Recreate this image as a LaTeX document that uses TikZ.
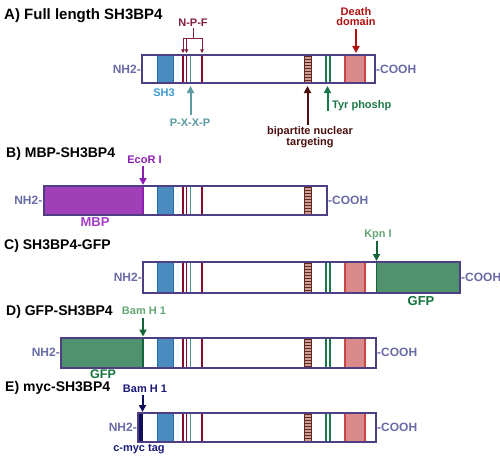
\documentclass[tikz,border=0pt]{standalone}
\usepackage{fontspec}
\setmainfont{Liberation Sans}
\usetikzlibrary{arrows.meta}
\definecolor{boxc}{RGB}{80,62,130}
\definecolor{termc}{RGB}{106,106,166}
\definecolor{shfill}{RGB}{74,140,192}
\definecolor{shedge}{RGB}{30,110,175}
\definecolor{shlbl}{RGB}{58,154,208}
\definecolor{npf}{RGB}{135,10,45}
\definecolor{npflbl}{RGB}{130,30,65}
\definecolor{pxxp}{RGB}{74,144,152}
\definecolor{pxxplbl}{RGB}{90,155,160}
\definecolor{brickfill}{RGB}{200,160,150}
\definecolor{brickline}{RGB}{100,40,30}
\definecolor{tyr}{RGB}{26,120,70}
\definecolor{ddfill}{RGB}{218,138,138}
\definecolor{ddedge}{RGB}{200,70,70}
\definecolor{ddlbl}{RGB}{176,16,16}
\definecolor{bnt}{RGB}{75,15,15}
\definecolor{mbpfill}{RGB}{160,64,184}
\definecolor{mbplbl}{RGB}{165,60,200}
\definecolor{ecor}{RGB}{140,30,180}
\definecolor{gfpfill}{RGB}{80,145,110}
\definecolor{gfpedge}{RGB}{20,100,55}
\definecolor{gfplbl}{RGB}{20,115,60}
\definecolor{kpnlbl}{RGB}{100,165,115}
\definecolor{mycc}{RGB}{15,15,90}
\definecolor{myclbl}{RGB}{25,25,120}

\newcommand\mySHcore[2]{%
  \filldraw[fill=shfill,draw=shedge,line width=1pt] (157,#1) rectangle (173,#2);
  \draw[npf,line width=1.8pt] (183,#1)--(183,#2) (186.5,#1)--(186.5,#2) (202,#1)--(202,#2);
  \draw[pxxp,line width=1.8pt] (190.5,#1)--(190.5,#2);
}
\newcommand\myBrick[2]{%
  \fill[brickfill] (304.5,#1) rectangle (311.5,#2);
  \begin{scope}
    \clip (304.5,#1) rectangle (311.5,#2);
    \foreach \k in {0,...,10} \draw[brickline,line width=0.8pt] (304.5,{#1+1.5+3*\k}) -- (311.5,{#1+1.5+3*\k});
  \end{scope}
  \draw[brickline,line width=1pt] (304.5,#1)--(304.5,#2) (311.5,#1)--(311.5,#2);
}
\newcommand\myTail[2]{%
  \draw[tyr,line width=1.8pt] (326,#1)--(326,#2) (330,#1)--(330,#2);
  \fill[ddfill] (345,#1) rectangle (365,#2);
  \draw[ddedge,line width=1.6pt] (345,#1)--(345,#2) (365,#1)--(365,#2);
}

\begin{document}
\begin{tikzpicture}[x=1pt,y=-1pt,
  lbl/.style={font=\bfseries\fontsize{11}{10}\selectfont, inner sep=0, align=center},
  big/.style={font=\bfseries\fontsize{13}{14}\selectfont, inner sep=0},
  ttl/.style={font=\bfseries\fontsize{14}{16}\selectfont, anchor=west, inner sep=0},
  term/.style={font=\bfseries\fontsize{12}{14}\selectfont, inner sep=0, text=termc},
  outline/.style={draw=boxc, line width=2pt},
  arr/.style={line width=2pt, -{Triangle[width=7pt,length=7pt]}},
  sarr/.style={line width=1pt, -{Triangle[width=3.5pt,length=3.5pt]}}]
\useasboundingbox (0,0) rectangle (500,460);

% ---------------- A ----------------
\node[ttl,font=\bfseries\fontsize{15}{16}\selectfont] (tA) at (4,16) {A) Full length SH3BP4};
\mySHcore{55}{83}
\myBrick{55}{83}
\myTail{55}{83}
\draw[outline] (142,55) rectangle (375,83);
\node[term,anchor=east] (nA) at (141,69) {NH2-};
\node[term,anchor=west] (cA) at (376,69) {-COOH};
\node[lbl,text=shlbl] (sh3) at (164,93) {SH3};
% N-P-F
\node[lbl,text=npflbl] (npf) at (193,23) {N-P-F};
\coordinate (npfj) at (193,39);
\coordinate (npfl) at (182.5,39);
\coordinate (npfr) at (202.5,39);
\coordinate (npf1) at (183,53);
\coordinate (npf2) at (186.5,53);
\coordinate (npf3) at (202,53);
\draw[npflbl,line width=1pt] (npf.south) ++(0,1) -- (npfj);
\draw[npflbl,line width=1pt] (npfl) -- (npfr);
\draw[npflbl,sarr] (183,39) -- (npf1);
\draw[npflbl,sarr] (186.5,39) -- (npf2);
\draw[npflbl,sarr] (202,39) -- (npf3);
% P-X-X-P
\node[lbl,text=pxxplbl] (pxxp) at (190,123) {P-X-X-P};
\coordinate (pxxpb) at (190.5,115);
\coordinate (pxxpt) at (190.5,86);
\draw[pxxplbl,arr] (pxxpb) -- (pxxpt);
% bipartite
\node[lbl,text=bnt,font=\bfseries\fontsize{11}{11}\selectfont] (bnl) at (310,137.5) {bipartite nuclear\\targeting};
\coordinate (bnb) at (307.5,125);
\coordinate (bnt) at (307.5,86);
\draw[bnt,arr] (bnb) -- (bnt);
% Tyr
\node[lbl,text=tyr,anchor=west] (tyrl) at (332,105.5) {Tyr phoshp};
\coordinate (tyrb) at (327.5,111);
\coordinate (tyrt) at (327.5,86);
\draw[tyr,arr] (tyrb) -- (tyrt);
% Death domain
\node[lbl,text=ddlbl] (ddl) at (356,17) {Death\\domain};
\coordinate (ddb) at (356,29);
\coordinate (ddt) at (356,53);
\draw[ddlbl,arr] (ddb) -- (ddt);

% ---------------- B ----------------
\node[ttl] (tB) at (6,153.5) {B) MBP-SH3BP4};
\fill[mbpfill] (43.5,186) rectangle (143,215);
\draw[ecor,line width=1.5pt] (143,186) -- (143,215);
\mySHcore{186}{215}
\myBrick{186}{215}
\draw[outline] (43.5,186) rectangle (327,215);
\node[term,anchor=east] (nB) at (42.5,200.5) {NH2-};
\node[term,anchor=west] (cB) at (328,200) {-COOH};
\node[big,text=mbplbl] (mbp) at (95,222) {MBP};
\node[lbl,text=ecor] (eco) at (144.5,160) {EcoR I};
\coordinate (ecob) at (143,166);
\coordinate (ecot) at (143,185);
\draw[ecor,arr] (ecob) -- (ecot);

% ---------------- C ----------------
\node[ttl] (tC) at (4,246) {C) SH3BP4-GFP};
\fill[gfpfill] (376.5,262) rectangle (460,292.5);
\draw[gfpedge,line width=1.5pt] (376.5,262) -- (376.5,292.5);
\mySHcore{262}{292.5}
\myBrick{262}{292.5}
\myTail{262}{292.5}
\draw[outline] (143,262) rectangle (460,292.5);
\node[term,anchor=east] (nC) at (142,277) {NH2-};
\node[term,anchor=west] (cC) at (461,277) {-COOH};
\node[big,text=gfplbl] (gfpC) at (421,301) {GFP};
\node[lbl,text=kpnlbl] (kpn) at (378,235) {Kpn I};
\coordinate (kpnb) at (376.5,241);
\coordinate (kpnt) at (376.5,261);
\draw[gfpedge,arr] (kpnb) -- (kpnt);

% ---------------- D ----------------
\node[ttl] (tD) at (6,312) {D) GFP-SH3BP4};
\fill[gfpfill] (61,337.5) rectangle (143,367.5);
\draw[gfpedge,line width=1.5pt] (143,337.5) -- (143,367.5);
\mySHcore{337.5}{367.5}
\myBrick{337.5}{367.5}
\myTail{337.5}{367.5}
\draw[outline] (61,337.5) rectangle (376,367.5);
\node[term,anchor=east] (nD) at (60,352.5) {NH2-};
\node[term,anchor=west] (cD) at (377,352.5) {-COOH};
\node[big,text=gfplbl,font=\bfseries\fontsize{12.5}{13}\selectfont] (gfpD) at (103,374.5) {GFP};
\node[lbl,text=kpnlbl] (bamD) at (144,311) {Bam H 1};
\coordinate (bamDb) at (143,318);
\coordinate (bamDt) at (143,336.5);
\draw[gfpedge,arr] (bamDb) -- (bamDt);

% ---------------- E ----------------
\node[ttl] (tE) at (5,388) {E) myc-SH3BP4};
\fill[mycc] (138,413) rectangle (142.5,442);
\mySHcore{413}{442}
\myBrick{413}{442}
\myTail{413}{442}
\draw[outline] (138,413) rectangle (376,442);
\node[term,anchor=east] (nE) at (137,427.5) {NH2-};
\node[term,anchor=west] (cE) at (377,427) {-COOH};
\node[lbl,text=myclbl] (myct) at (139,449.5) {c-myc tag};
\node[lbl,text=myclbl] (bamE) at (145,389) {Bam H 1};
\coordinate (bamEb) at (142.5,395);
\coordinate (bamEt) at (142.5,412);
\draw[mycc,arr] (bamEb) -- (bamEt);
\end{tikzpicture}
\end{document}
